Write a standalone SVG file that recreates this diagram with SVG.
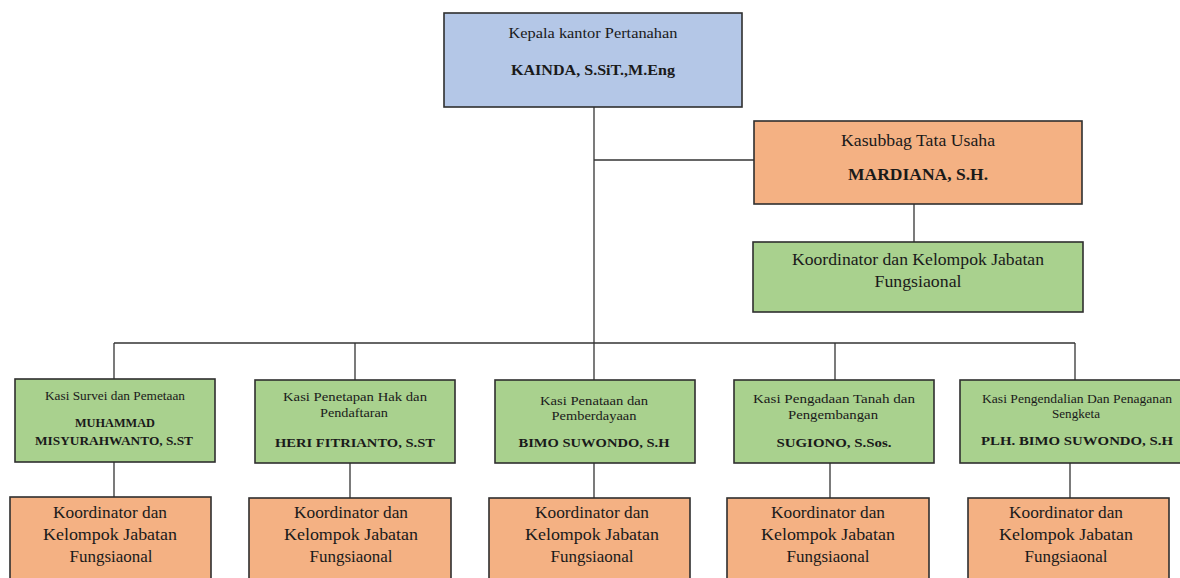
<svg xmlns="http://www.w3.org/2000/svg" width="1180" height="578" viewBox="0 0 1180 578">
<style>
.box{stroke:#2f2f2f;stroke-width:1.6}
.blue{fill:#b4c7e7}
.orange{fill:#f4b183}
.green{fill:#a9d18e}
text{font-family:"Liberation Serif","Times New Roman",serif;fill:#1a1a1a;text-anchor:middle}
.b{font-weight:bold}
.s{font-size:12px}
.sb{font-size:12.5px;font-weight:bold}
.big{font-size:16.5px}
.conn line{stroke:#333;stroke-width:1.3}
</style>
<rect width="1180" height="578" fill="#ffffff"/>
<g class="conn">
<line x1="594" y1="107" x2="594" y2="343"/>
<line x1="594" y1="160" x2="754" y2="160"/>
<line x1="914" y1="204" x2="914" y2="242"/>
<line x1="114" y1="343" x2="1075" y2="343"/>
<line x1="114" y1="343" x2="114" y2="379"/>
<line x1="355" y1="343" x2="355" y2="380"/>
<line x1="594" y1="343" x2="594" y2="380"/>
<line x1="835" y1="343" x2="835" y2="380"/>
<line x1="1075" y1="343" x2="1075" y2="380"/>
<line x1="114" y1="462" x2="114" y2="497"/>
<line x1="350" y1="463" x2="350" y2="498"/>
<line x1="594" y1="463" x2="594" y2="498"/>
<line x1="830" y1="463" x2="830" y2="498"/>
<line x1="1070" y1="463" x2="1070" y2="498"/>
</g>
<g id="kepala">
<rect class="box blue" x="444" y="13" width="298" height="94"/>
<text x="593" y="38" font-size="15" textLength="169" lengthAdjust="spacingAndGlyphs">Kepala kantor Pertanahan</text>
<text x="593" y="75" font-size="15" class="b" textLength="164" lengthAdjust="spacingAndGlyphs">KAINDA, S.SiT.,M.Eng</text>
</g>
<g id="kasubbag">
<rect class="box orange" x="754" y="121" width="328" height="83"/>
<text x="918" y="146" font-size="17.5" textLength="154" lengthAdjust="spacingAndGlyphs">Kasubbag Tata Usaha</text>
<text x="918" y="180" font-size="17.5" class="b" textLength="140" lengthAdjust="spacingAndGlyphs">MARDIANA, S.H.</text>
</g>
<g id="koord-tu">
<rect class="box green" x="753" y="242" width="330" height="70"/>
<text x="918" y="265" font-size="17" textLength="252" lengthAdjust="spacingAndGlyphs">Koordinator dan Kelompok Jabatan</text>
<text x="918" y="287" font-size="17" textLength="87" lengthAdjust="spacingAndGlyphs">Fungsiaonal</text>
</g>
<g id="kasi1">
<rect class="box green" x="15" y="379" width="200" height="83"/>
<text x="115" y="400" class="s" textLength="140" lengthAdjust="spacingAndGlyphs">Kasi Survei dan Pemetaan</text>
<text x="115" y="427" class="sb" textLength="80" lengthAdjust="spacingAndGlyphs">MUHAMMAD</text>
<text x="114" y="445" class="sb" textLength="158" lengthAdjust="spacingAndGlyphs">MISYURAHWANTO, S.ST</text>
</g>
<g id="kasi2">
<rect class="box green" x="255" y="380" width="200" height="83"/>
<text x="355" y="401" class="s" textLength="144" lengthAdjust="spacingAndGlyphs">Kasi Penetapan Hak dan</text>
<text x="354" y="417" class="s" textLength="68" lengthAdjust="spacingAndGlyphs">Pendaftaran</text>
<text x="355" y="447" class="sb" textLength="160" lengthAdjust="spacingAndGlyphs">HERI FITRIANTO, S.ST</text>
</g>
<g id="kasi3">
<rect class="box green" x="495" y="380" width="200" height="83"/>
<text x="594" y="405" class="s" textLength="108" lengthAdjust="spacingAndGlyphs">Kasi Penataan dan</text>
<text x="594" y="420" class="s" textLength="85" lengthAdjust="spacingAndGlyphs">Pemberdayaan</text>
<text x="594" y="447" class="sb" textLength="151" lengthAdjust="spacingAndGlyphs">BIMO SUWONDO, S.H</text>
</g>
<g id="kasi4">
<rect class="box green" x="734" y="380" width="200" height="83"/>
<text x="834" y="403" class="s" textLength="162" lengthAdjust="spacingAndGlyphs">Kasi Pengadaan Tanah dan</text>
<text x="833" y="419" class="s" textLength="90" lengthAdjust="spacingAndGlyphs">Pengembangan</text>
<text x="834" y="447" class="sb" textLength="115" lengthAdjust="spacingAndGlyphs">SUGIONO, S.Sos.</text>
</g>
<g id="kasi5">
<rect class="box green" x="960" y="380" width="228" height="83"/>
<text x="1077" y="403" class="s" textLength="190" lengthAdjust="spacingAndGlyphs">Kasi Pengendalian Dan Penaganan</text>
<text x="1076" y="418" class="s" textLength="48" lengthAdjust="spacingAndGlyphs">Sengketa</text>
<text x="1077" y="445" class="sb" textLength="192" lengthAdjust="spacingAndGlyphs">PLH. BIMO SUWONDO, S.H</text>
</g>
<g id="koord1">
<rect class="box orange" x="10" y="497" width="201" height="90"/>
<text x="110" y="518" class="big" textLength="114" lengthAdjust="spacingAndGlyphs">Koordinator dan</text>
<text x="110" y="540" class="big" textLength="134" lengthAdjust="spacingAndGlyphs">Kelompok Jabatan</text>
<text x="111" y="562" class="big" textLength="83" lengthAdjust="spacingAndGlyphs">Fungsiaonal</text>
</g>
<g id="koord2">
<rect class="box orange" x="249" y="498" width="202" height="90"/>
<text x="351" y="518" class="big" textLength="114" lengthAdjust="spacingAndGlyphs">Koordinator dan</text>
<text x="351" y="540" class="big" textLength="134" lengthAdjust="spacingAndGlyphs">Kelompok Jabatan</text>
<text x="351" y="562" class="big" textLength="83" lengthAdjust="spacingAndGlyphs">Fungsiaonal</text>
</g>
<g id="koord3">
<rect class="box orange" x="489" y="498" width="201" height="90"/>
<text x="592" y="518" class="big" textLength="114" lengthAdjust="spacingAndGlyphs">Koordinator dan</text>
<text x="592" y="540" class="big" textLength="134" lengthAdjust="spacingAndGlyphs">Kelompok Jabatan</text>
<text x="592" y="562" class="big" textLength="83" lengthAdjust="spacingAndGlyphs">Fungsiaonal</text>
</g>
<g id="koord4">
<rect class="box orange" x="727" y="498" width="202" height="90"/>
<text x="828" y="518" class="big" textLength="114" lengthAdjust="spacingAndGlyphs">Koordinator dan</text>
<text x="828" y="540" class="big" textLength="134" lengthAdjust="spacingAndGlyphs">Kelompok Jabatan</text>
<text x="828" y="562" class="big" textLength="83" lengthAdjust="spacingAndGlyphs">Fungsiaonal</text>
</g>
<g id="koord5">
<rect class="box orange" x="968" y="498" width="201" height="90"/>
<text x="1066" y="518" class="big" textLength="114" lengthAdjust="spacingAndGlyphs">Koordinator dan</text>
<text x="1066" y="540" class="big" textLength="134" lengthAdjust="spacingAndGlyphs">Kelompok Jabatan</text>
<text x="1066" y="562" class="big" textLength="83" lengthAdjust="spacingAndGlyphs">Fungsiaonal</text>
</g>
</svg>
